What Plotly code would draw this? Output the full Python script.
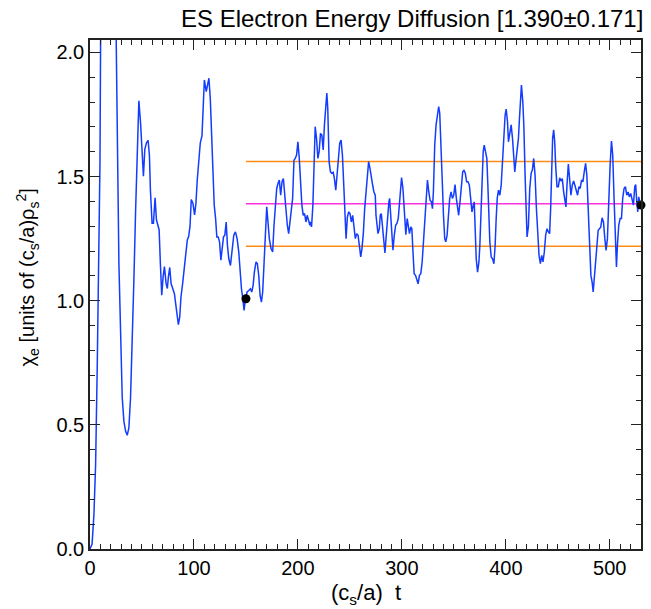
import plotly.graph_objects as go

# time axis (c_s/a) t and chi_e values
t = [0, 2.0, 3.8, 5.4, 7.0, 8.6, 9.6, 10.2, 13, 17, 21, 25.2, 26.8, 27.8, 29.4, 31.0, 32.6, 34.2, 35.8, 37.4,
     39.0, 40.6, 42.2, 43.8, 45.4, 47.0, 48.6, 50.2, 51.4, 52.7, 54.3, 55.9, 57.2, 58.1, 59.7, 61.0,
     62.6, 63.9, 65.2, 66.5, 67.7, 69.0, 70.3, 71.6, 73.2, 74.4, 75.4, 76.7, 78.0, 79.2, 81.2, 82.4,
     83.7, 85.0, 86.3, 87.5, 89.1, 90.7, 92.0, 93.6, 94.9, 96.2, 97.4, 99.0, 100.6, 101.9, 103.2,
     104.8, 106.1, 107.7, 108.6, 110.0, 111.8, 113.4, 114.4, 115.7, 117.0, 118.2, 119.5, 120.8,
     122.0, 123.3, 124.6, 125.9, 127.1, 128.4, 129.7, 131.0, 132.2, 133.5, 135.1, 136.7, 138.3,
     139.9, 141.5, 143.1, 144.4, 145.7, 147.0, 148.2, 149.5, 151.1, 152.7, 154.3, 155.6, 156.9,
     158.1, 159.7, 161.0, 162.3, 163.6, 164.9, 166.1, 167.4, 168.7, 170.0, 171.2, 172.5, 174.1,
     175.7, 177.0, 178.3, 179.6, 180.8, 182.1, 183.4, 184.7, 186.0, 187.2, 188.5, 189.8, 191.1,
     192.3, 193.6, 194.9, 196.2, 197.4, 198.7, 200.0, 201.3, 202.6, 203.8, 205.1, 206.4, 207.7,
     208.9, 210.2, 211.5, 212.1, 213.1, 214.4, 215.6, 216.6, 217.9, 219.2, 220.4, 221.7, 223.0,
     224.3, 225.5, 226.8, 227.8, 228.7, 229.4, 230.0, 231.3, 232.6, 233.9, 235.1, 236.4, 237.7,
     239.0, 240.2, 241.5, 242.8, 244.1, 245.4, 246.3, 247.6, 248.9, 250.1, 251.4, 252.7, 254.0,
     255.2, 256.5, 257.8, 259.1, 260.4, 261.6, 262.9, 264.2, 265.5, 266.7, 268.0, 269.3, 270.6,
     271.9, 273.1, 274.4, 275.1, 276.0, 277.0, 278.3, 279.2, 280.2, 281.1, 282.4, 283.7, 285.0,
     286.2, 287.5, 288.2, 289.5, 290.7, 291.4, 292.7, 294.0, 295.2, 296.5, 297.8, 298.8, 299.7,
     301.0, 302.0, 302.9, 303.8, 305.1, 306.4, 307.3, 308.6, 309.6, 310.5, 311.8, 313.1, 314.4,
     315.6, 316.9, 318.2, 319.5, 320.7, 322.0, 323.3, 324.6, 325.9, 327.1, 328.4, 329.4, 330.3,
     331.6, 332.9, 334.2, 335.4, 336.4, 337.7, 339.0, 340.0, 341.2, 342.2, 343.5, 344.8, 346.0,
     347.3, 348.6, 349.9, 351.1, 352.4, 353.7, 354.6, 355.9, 357.2, 358.5, 359.7, 361.0, 362.3,
     363.6, 364.9, 366.1, 367.4, 368.7, 369.6, 370.6, 371.5, 372.8, 374.1, 375.0, 376.0, 376.9,
     378.2, 379.2, 380.5, 381.7, 382.7, 383.7, 384.6, 385.9, 387.2, 388.5, 389.7, 390.7, 391.7,
     392.9, 394.2, 395.5, 396.8, 398.0, 399.3, 400.3, 401.6, 402.5, 403.8, 405.1, 406.4, 407.7,
     408.6, 409.6, 410.9, 412.1, 413.1, 414.1, 415.0, 416.3, 417.3, 418.5, 419.5, 420.4, 421.7,
     423.0, 424.3, 425.5, 426.8, 428.1, 429.4, 430.6, 431.9, 433.2, 434.5, 435.7, 437.0, 438.3,
     439.6, 440.9, 442.1, 443.1, 444.1, 445.0, 446.0, 447.0, 447.9, 449.2, 450.5, 451.8, 453.0,
     454.3, 455.6, 456.9, 457.8, 458.8, 460.1, 461.3, 462.6, 463.9, 465.2, 466.4, 467.7, 469.0,
     470.3, 471.5, 472.8, 474.1, 475.4, 476.7, 477.9, 479.2, 480.5, 481.8, 483.0, 484.0, 485.0,
     486.2, 487.5, 488.8, 490.1, 491.3, 492.6, 493.9, 495.2, 496.4, 497.7, 499.0, 500.3, 501.6,
     502.8, 504.1, 505.4, 506.4, 507.3, 508.6, 509.9, 511.2, 512.4, 513.7, 515.0, 516.3, 517.6,
     518.8, 520.1, 521.4, 522.7, 524.0, 524.9, 525.9, 526.9, 527.8, 529.1, 530.4]

chi = [0.0, 0.02, 0.14, 0.34, 0.745, 1.15, 1.556, 2.05, 2.45, 2.6, 2.45, 2.05, 1.556, 1.15, 0.88, 0.61, 0.515, 0.475, 0.458, 0.488,
       0.61, 0.812, 1.08, 1.353, 1.623, 1.805, 1.718, 1.582, 1.501, 1.609, 1.636, 1.646, 1.582, 1.447, 1.312, 1.312,
       1.414, 1.326, 1.299, 1.285, 1.15, 1.022, 1.096, 1.137, 1.069, 1.049, 1.096, 1.134, 1.069, 1.055, 1.028, 0.988,
       0.934, 0.904, 0.934, 1.015, 1.069, 1.123, 1.191, 1.245, 1.258, 1.299, 1.407, 1.393, 1.346, 1.393, 1.488,
       1.555, 1.636, 1.664, 1.758, 1.889, 1.842, 1.876, 1.896, 1.815, 1.681, 1.533, 1.385, 1.331,
       1.257, 1.257, 1.237, 1.163, 1.223, 1.257, 1.264, 1.317, 1.223, 1.169, 1.142, 1.196, 1.264,
       1.277, 1.250, 1.196, 1.115, 1.048, 1.008, 0.961, 1.008, 1.035, 1.041, 1.048, 1.035, 1.062,
       1.115, 1.156, 1.149, 1.102, 1.021, 0.994, 1.035, 1.129, 1.264, 1.378, 1.317, 1.250, 1.210,
       1.196, 1.304, 1.398, 1.452, 1.472, 1.486, 1.425, 1.479, 1.492, 1.425, 1.371, 1.304, 1.270,
       1.317, 1.358, 1.412, 1.566, 1.573, 1.587, 1.640, 1.573, 1.479, 1.385, 1.344, 1.351, 1.317,
       1.344, 1.324, 1.304, 1.317, 1.297, 1.385, 1.573, 1.701, 1.654, 1.573, 1.600, 1.674, 1.667,
       1.607, 1.708, 1.802, 1.836, 1.775, 1.654, 1.560, 1.519, 1.513, 1.517, 1.492, 1.445, 1.519,
       1.600, 1.634, 1.647, 1.587, 1.465, 1.358, 1.250, 1.338, 1.358, 1.351, 1.317, 1.344, 1.297,
       1.250, 1.270, 1.264, 1.223, 1.176, 1.210, 1.270, 1.371, 1.438, 1.506, 1.560, 1.533, 1.506,
       1.465, 1.438, 1.425, 1.344, 1.290, 1.270, 1.290, 1.344, 1.351, 1.304, 1.237, 1.192, 1.264,
       1.344, 1.398, 1.412, 1.317, 1.237, 1.203, 1.264, 1.304, 1.311, 1.331, 1.398, 1.479, 1.496,
       1.452, 1.385, 1.317, 1.266, 1.331, 1.304, 1.270, 1.297, 1.290, 1.210, 1.109, 1.102, 1.088,
       1.068, 1.102, 1.109, 1.156, 1.237, 1.331, 1.438, 1.486, 1.438, 1.405, 1.398, 1.371, 1.438,
       1.627, 1.708, 1.762, 1.782, 1.755, 1.640, 1.465, 1.344, 1.250, 1.237, 1.264, 1.344, 1.412,
       1.438, 1.412, 1.425, 1.468, 1.412, 1.358, 1.344, 1.398, 1.465, 1.519, 1.526, 1.513, 1.479,
       1.479, 1.465, 1.425, 1.358, 1.385, 1.398, 1.277, 1.169, 1.115, 1.156, 1.223, 1.331, 1.465,
       1.600, 1.627, 1.600, 1.573, 1.465, 1.331, 1.237, 1.176, 1.169, 1.149, 1.223, 1.331, 1.412,
       1.445, 1.425, 1.465, 1.573, 1.667, 1.748, 1.772, 1.721, 1.640, 1.681, 1.708, 1.654, 1.573,
       1.519, 1.560, 1.613, 1.654, 1.735, 1.815, 1.869, 1.802, 1.708, 1.506, 1.371, 1.257, 1.300,
       1.452, 1.513, 1.526, 1.573, 1.506, 1.371, 1.250, 1.183, 1.149, 1.183, 1.156, 1.196, 1.264,
       1.290, 1.277, 1.270, 1.371, 1.573, 1.654, 1.688, 1.640, 1.546, 1.459, 1.459, 1.495, 1.482,
       1.492, 1.438, 1.398, 1.378, 1.465, 1.550, 1.492, 1.425, 1.465, 1.482, 1.465, 1.438, 1.425,
       1.459, 1.452, 1.486, 1.479, 1.519, 1.553, 1.506, 1.398, 1.237, 1.102, 1.075, 1.035, 1.088,
       1.169, 1.237, 1.284, 1.290, 1.297, 1.334, 1.317, 1.250, 1.203, 1.250, 1.412, 1.546, 1.643,
       1.587, 1.412, 1.223, 1.136, 1.223, 1.304, 1.331, 1.331, 1.412, 1.452, 1.459, 1.425, 1.438,
       1.418, 1.432, 1.412, 1.385, 1.459, 1.468, 1.398, 1.358, 1.418, 1.391, 1.385]

# statistics over the averaging window
mean_val = 1.390
std_val = 0.171
window = [150, 530]
start_pt = [150, 1.008]
end_pt = [530, 1.385]

FONT = "Liberation Sans"
fig = go.Figure()

fig.add_trace(go.Scatter(x=window, y=[mean_val + std_val] * 2, mode="lines",
                         line=dict(color="rgb(255,140,20)", width=1.5), showlegend=False))
fig.add_trace(go.Scatter(x=window, y=[mean_val - std_val] * 2, mode="lines",
                         line=dict(color="rgb(255,140,20)", width=1.5), showlegend=False))
fig.add_trace(go.Scatter(x=window, y=[mean_val] * 2, mode="lines",
                         line=dict(color="rgb(255,50,220)", width=1.5), showlegend=False))
fig.add_trace(go.Scatter(x=t, y=chi, mode="lines",
                         line=dict(color="rgb(20,60,255)", width=1.5), showlegend=False))
fig.add_trace(go.Scatter(x=[start_pt[0], end_pt[0]], y=[start_pt[1], end_pt[1]], mode="markers",
                         marker=dict(color="black", size=9), cliponaxis=False, showlegend=False))

axis_common = dict(showgrid=False, zeroline=False, showline=True, linecolor="#222", linewidth=1.5,
                   mirror="allticks", ticks="inside", ticklen=10, tickwidth=1.2, tickcolor="#222",
                   tickfont=dict(family=FONT, size=20, color="black"))

fig.update_xaxes(range=[0, 530], dtick=100, tick0=0,
                 minor=dict(dtick=10, ticklen=5, ticks="inside", tickcolor="#222", tickwidth=1.2),
                 **axis_common)
fig.update_yaxes(range=[0, 2.05], dtick=0.5, tick0=0, tickformat=".1f",
                 minor=dict(dtick=0.1, ticklen=5, ticks="inside", tickcolor="#222", tickwidth=1.2),
                 **axis_common)

fig.add_annotation(text="(c<sub>s</sub>/a)  t",
                   xref="paper", yref="paper", x=0.5, y=0, xanchor="center", yanchor="middle",
                   yshift=-45, showarrow=False, font=dict(family=FONT, size=22, color="black"))
fig.add_annotation(text="χ<sub>e</sub> [units of (c<sub>s</sub>/a)ρ<sub>s</sub><sup>2</sup>]",
                   xref="paper", yref="paper", x=-0.114, y=0.534, textangle=-90,
                   showarrow=False, font=dict(family=FONT, size=20, color="black"),
                   xanchor="center", yanchor="middle")
fig.add_annotation(text="ES Electron Energy Diffusion [1.390±0.171]",
                   xref="paper", yref="paper", x=1, y=1, xanchor="right", yanchor="middle",
                   xshift=4, yshift=22, showarrow=False,
                   font=dict(family=FONT, size=24, color="black"))

fig.update_layout(width=651, height=609, margin=dict(l=90, r=8, t=40, b=60),
                  plot_bgcolor="white", paper_bgcolor="white")

fig.write_html("out.html")
